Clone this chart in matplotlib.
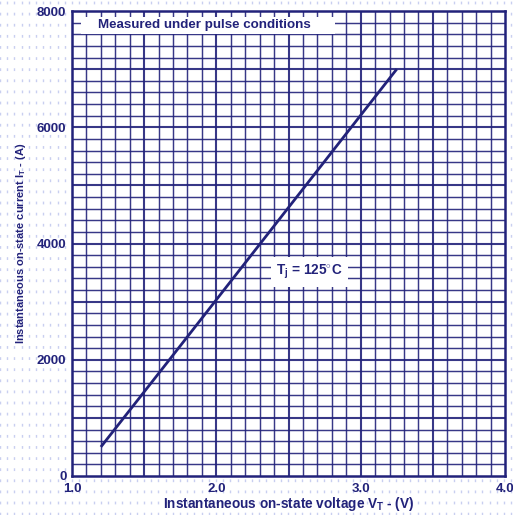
import numpy as np
import matplotlib.pyplot as plt
from matplotlib.patches import Rectangle

plt.rcParams['font.family'] = 'Liberation Sans'
plt.rcParams['font.weight'] = 'bold'
plt.rcParams['mathtext.fontset'] = 'custom'
plt.rcParams['mathtext.rm'] = 'Liberation Sans:bold'
plt.rcParams['mathtext.bf'] = 'Liberation Sans:bold'
plt.rcParams['mathtext.it'] = 'Liberation Sans:bold'
plt.rcParams['mathtext.default'] = 'bf'

NAVY = '#22227a'

# on-state characteristic, Tj = 125 C
v_t = [1.2, 1.7, 3.25]
i_t = [500, 2080, 7000]

x_ticks = [1.0, 2.0, 3.0, 4.0]
x_tick_labels = ['1.0', '2.0', '3.0', '4.0']
y_ticks = [0, 2000, 4000, 6000, 8000]
y_tick_labels = ['0', '2000', '4000', '6000', '8000']

fig = plt.figure(figsize=(5.13, 5.15), dpi=100)

# faint dotted paper texture behind everything
bg = fig.add_axes([0, 0, 1, 1], zorder=-1)
bg.set_xlim(0, 513)
bg.set_ylim(0, 515)
bg.axis('off')
for px in np.arange(72 - 7.2 * 10, 520, 7.2):
    bg.plot([px, px], [0, 515], color='#c9cff0', lw=1.0,
            linestyle=(0, (2, 6)))

ax = fig.add_axes([72 / 513, 39 / 515, 433 / 513, 465 / 515])
ax.set_facecolor('white')
ax.set_xlim(1.0, 4.0)
ax.set_ylim(0, 8000)

# graph paper grid: fine every 0.1 V / 200 A, heavy every 0.5 V / 1000 A
for xv in np.arange(1.1, 4.0, 0.1):
    heavy = abs(xv * 2 - round(xv * 2)) < 1e-6
    ax.axvline(xv, color=NAVY, lw=1.5 if heavy else 1.05, alpha=0.9, zorder=1)
for yv in np.arange(200, 8000, 200):
    heavy = yv % 1000 == 0
    ax.axhline(yv, color=NAVY, lw=1.5 if heavy else 1.05, alpha=0.9, zorder=1)

# white strip for the header note
ax.add_patch(Rectangle((1.06, 7610), 2.82 - 1.06, 7900 - 7610,
                       facecolor='white', edgecolor='none', zorder=2))
ax.text(1.18, 7760, 'Measured under pulse conditions', ha='left', va='center',
        fontsize=9.6, fontweight='bold', color=NAVY, zorder=3)

ax.plot(v_t, i_t, color=NAVY, lw=2.0, zorder=4, solid_capstyle='butt')

ax.text(2.646, 3510, r'T$_j$ = 125$^{\circ}$C', ha='center', va='center',
        fontsize=9.8, fontweight='bold', color=NAVY, zorder=5,
        bbox=dict(facecolor='white', edgecolor='none', pad=4))

for s in ax.spines.values():
    s.set_color(NAVY)
    s.set_linewidth(1.8)
    s.set_zorder(6)

ax.set_xticks(x_ticks)
ax.set_xticklabels(x_tick_labels)
ax.set_yticks(y_ticks)
ax.set_yticklabels(y_tick_labels)
ax.tick_params(length=0, labelsize=9.5, labelcolor=NAVY)
ax.tick_params(axis='x', pad=5)
ax.tick_params(axis='y', pad=4)
for lbl in ax.get_xticklabels() + ax.get_yticklabels():
    lbl.set_fontweight('bold')

ax.set_xlabel(r'Instantaneous on-state voltage V$_T$ - (V)', fontsize=9.8,
              fontweight='bold', color=NAVY, labelpad=0)
ax.set_ylabel(r'Instantaneous on-state current I$_T$ - (A)', fontsize=8,
              fontweight='bold', color=NAVY, labelpad=6)

fig.savefig('out.png', dpi=100)
